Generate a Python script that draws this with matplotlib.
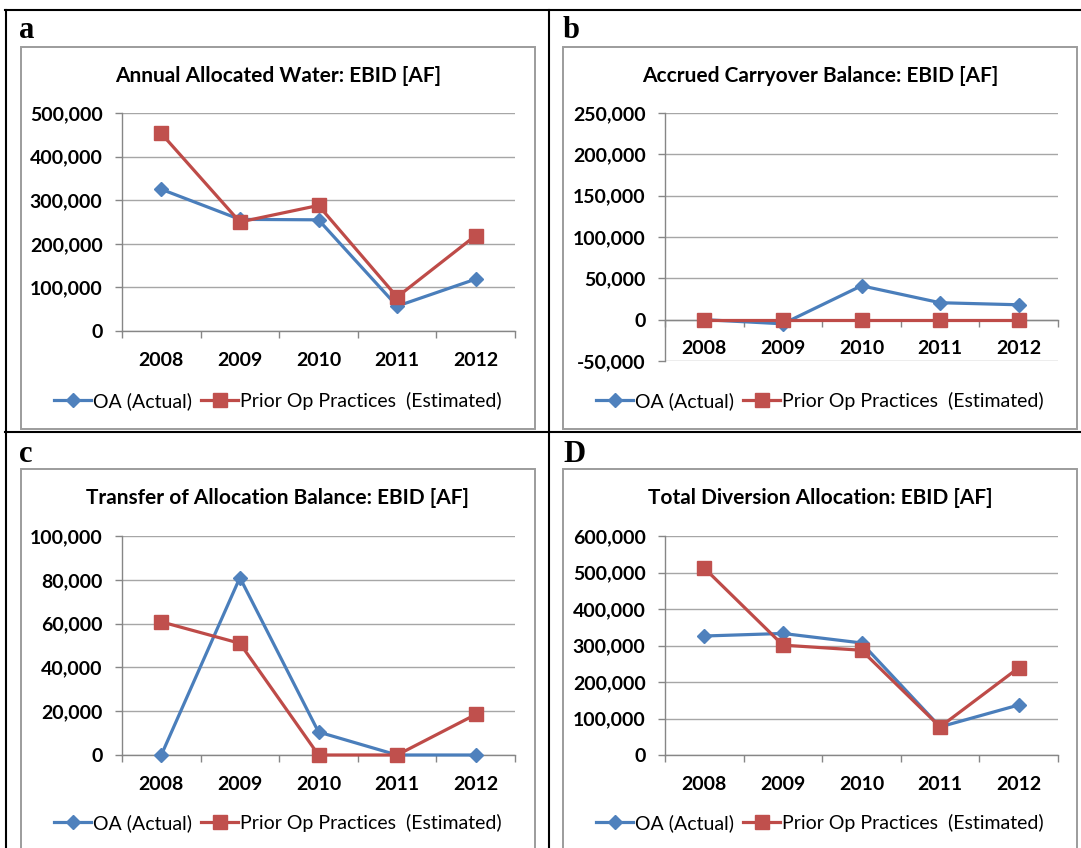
import matplotlib
matplotlib.use('Agg')
import numpy as np
import matplotlib.pyplot as plt
from matplotlib.lines import Line2D
from matplotlib.patches import Rectangle
from matplotlib.ticker import FuncFormatter

W, H, DPI = 1081, 848, 100

years = ['2008', '2009', '2010', '2011', '2012']
series_names = ['OA (Actual)', 'Prior Op Practices  (Estimated)']

a_title = 'Annual Allocated Water: EBID [AF]'
a_oa = [325000, 256000, 255000, 57000, 119000]
a_prior = [453000, 250000, 288000, 78000, 219000]

b_title = 'Accrued Carryover Balance: EBID [AF]'
b_oa = [0, -5000, 41000, 20500, 18000]
b_prior = [0, 0, 0, 0, 0]

c_title = 'Transfer of Allocation Balance: EBID [AF]'
c_oa = [0, 81000, 10500, 0, 0]
c_prior = [60800, 51000, 0, 0, 18500]

d_title = 'Total Diversion Allocation: EBID [AF]'
d_oa = [326000, 333000, 307000, 77000, 137000]
d_prior = [512000, 301000, 287000, 77000, 239000]

BLUE = '#4A7EBB'
BLUE_M = '#4F81BD'
RED = '#BE4B48'
RED_M = '#C0504D'
AXC = '#868686'
GRIDC = '#A6A6A6'
BOXC = '#9C9C9C'
FONT = 'Lato'
TICK_FS = 14
TITLE_FS = 15
LEG_FS = 14

fig = plt.figure(figsize=(W / DPI, H / DPI), dpi=DPI)
fig.patch.set_facecolor('white')


def fx(x):
    return x / W


def fy(y):
    return 1 - y / H


def hline(y, x0, x1, **kw):
    fig.add_artist(Line2D([fx(x0), fx(x1)], [fy(y), fy(y)], transform=fig.transFigure, **kw))


def vline(x, y0, y1, **kw):
    fig.add_artist(Line2D([fx(x), fx(x)], [fy(y0), fy(y1)], transform=fig.transFigure, **kw))


panels = [
    dict(letter='a', title=a_title, oa=a_oa, prior=a_prior,
         box=(21, 47, 535, 429), plot=(122, 113, 515, 331),
         ylim=(0, 500000), step=100000, title_y=76, leg_y=401, let=(19, 38)),
    dict(letter='b', title=b_title, oa=b_oa, prior=b_prior,
         box=(563, 47, 1077, 429), plot=(665, 113, 1058, 361),
         ylim=(-50000, 250000), step=50000, title_y=76, leg_y=401, let=(563, 38)),
    dict(letter='c', title=c_title, oa=c_oa, prior=c_prior,
         box=(21, 469, 535, 855), plot=(122, 536, 515, 755),
         ylim=(0, 100000), step=20000, title_y=498, leg_y=823, let=(19, 462)),
    dict(letter='D', title=d_title, oa=d_oa, prior=d_prior,
         box=(563, 469, 1077, 855), plot=(665, 536, 1058, 755),
         ylim=(0, 600000), step=100000, title_y=498, leg_y=823, let=(563, 462)),
]

for p in panels:
    bx0, by0, bx1, by1 = p['box']
    fig.add_artist(Rectangle((fx(bx0), fy(by1)), fx(bx1 - bx0), (by1 - by0) / H,
                             transform=fig.transFigure, fill=False, ec=BOXC, lw=1.4))
    lx, ly = p['let']
    fig.text(fx(lx), fy(ly), p['letter'], family='Liberation Serif', weight='bold',
             fontsize=22, ha='left', va='baseline')
    cx = (bx0 + bx1) / 2
    fig.text(fx(cx), fy(p['title_y']), p['title'], family=FONT, weight='bold',
             fontsize=TITLE_FS, ha='center', va='center')

    l, t, r, b = p['plot']
    ax = fig.add_axes([fx(l), fy(b), (r - l) / W, (b - t) / H])
    lo, hi = p['ylim']
    if lo < 0:
        ax.spines['bottom'].set_position(('data', 0))
    x = np.arange(len(years))
    ax.plot(x, p['oa'], color=BLUE, lw=2.3, marker='D', ms=7.2, mfc=BLUE_M, mec=BLUE_M,
            zorder=3, clip_on=False)
    ax.plot(x, p['prior'], color=RED, lw=2.3, marker='s', ms=9.4, mfc=RED_M, mec=RED_M,
            zorder=4, clip_on=False)
    ax.set_xlim(-0.5, 4.5)
    ax.set_ylim(lo, hi)
    ax.set_yticks(np.arange(lo, hi + 1, p['step']))
    ax.yaxis.set_major_formatter(FuncFormatter(lambda v, pos: f'{int(round(v)):,}'))
    ax.set_xticks(x)
    ax.set_xticklabels(years)
    ax.set_xticks(np.arange(-0.5, 5, 1), minor=True)
    ax.tick_params(axis='x', which='major', length=0, pad=15)
    ax.tick_params(axis='x', which='minor', length=5, width=1, color=AXC, direction='out')
    ax.tick_params(axis='y', which='major', length=5, width=1, color=AXC, pad=9)
    for lab in ax.get_xticklabels() + ax.get_yticklabels():
        lab.set_family(FONT)
        lab.set_weight('bold')
        lab.set_fontsize(TICK_FS)
    ax.grid(axis='y', color=GRIDC, lw=1)
    ax.set_axisbelow(True)
    for s in ['top', 'right']:
        ax.spines[s].set_visible(False)
    ax.spines['left'].set_color(AXC)
    ax.spines['bottom'].set_color(AXC)
    ax.spines['left'].set_linewidth(1)
    ax.spines['bottom'].set_linewidth(1)
    ax.patch.set_alpha(0)

    handles = [
        Line2D([], [], color=BLUE, lw=2.3, marker='D', ms=7.2, mfc=BLUE_M, mec=BLUE_M),
        Line2D([], [], color=RED, lw=2.3, marker='s', ms=9.4, mfc=RED_M, mec=RED_M),
    ]
    fig.legend(handles, series_names, loc='center', bbox_to_anchor=(fx(cx), fy(p['leg_y'])),
               ncol=2, frameon=False, handlelength=1.9, handletextpad=0.12,
               columnspacing=0.45, numpoints=1, borderpad=0, borderaxespad=0,
               prop=dict(family=FONT, size=LEG_FS))

# table borders
BL = dict(color='black', lw=1.5)
hline(10, 5, 1081, **BL)
hline(432, 5, 1081, **BL)
vline(6, 10, 848, **BL)
vline(549, 10, 848, **BL)

fig.savefig('out.png', dpi=DPI)
